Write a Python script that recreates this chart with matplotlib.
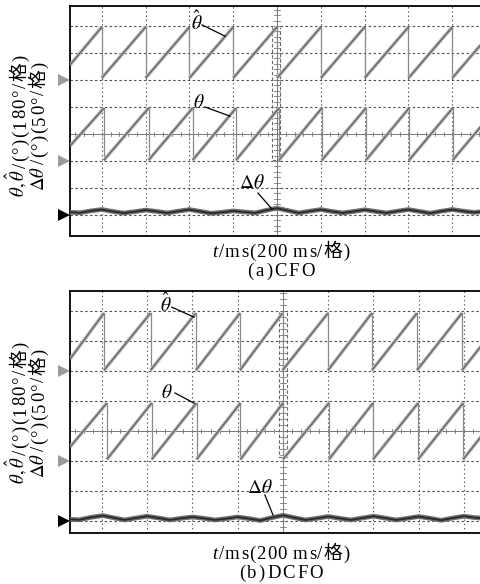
import numpy as np
import matplotlib
matplotlib.use("Agg")
import matplotlib.pyplot as plt
from matplotlib.transforms import IdentityTransform, blended_transform_factory

plt.rcParams['mathtext.fontset'] = 'stix'
SERIF = ['Liberation Serif', 'Noto Sans CJK SC']

# ---------------- data (time in ms, angles in degrees) ----------------
# Panel (a) CFO
a_hat_t = [55, 200, 200, 400, 400, 600, 600, 800, 800, 1000, 1000, 1200, 1200,
           1400, 1400, 1600, 1600, 1800, 1800, 1931]
a_hat_v = [100, 353, 13, 353, 13, 353, 13, 353, 13, 353, 13, 353, 13,
           353, 13, 353, 13, 353, 13, 236]
a_th_t = [55, 210, 210, 414, 414, 615, 615, 813, 813, 1009, 1009, 1205, 1205,
          1406, 1406, 1603, 1603, 1802, 1802, 1931]
a_th_v = [100, 353, 6, 353, 6, 353, 6, 353, 6, 353, 6, 353, 6,
          353, 6, 353, 6, 353, 6, 230]
a_err_t = [55, 100, 150, 200, 250, 300, 350, 400, 450, 500, 550, 600, 650, 700,
           750, 800, 850, 900, 950, 1000, 1050, 1100, 1150, 1200, 1250, 1300,
           1350, 1400, 1450, 1500, 1550, 1600, 1650, 1700, 1750, 1800, 1850,
           1900, 1931]
a_err_v = [5, 4, 7.5, 10, 6.5, 3.5, 6, 9, 6.5, 3.7, 7, 10, 6.5, 3, 5, 7.4, 5.5,
           3.7, 8.5, 12.5, 8, 3.7, 7, 10, 6.5, 3.7, 6.5, 9.5, 6.5, 3.7, 7, 10,
           6.5, 3.2, 7, 10, 7, 4.6, 6]

# Panel (b) DCFO
b_hat_t = [59, 209, 209, 415, 415, 615, 615, 810, 810, 998, 998, 1199, 1199,
           1393, 1393, 1592, 1592, 1791, 1791, 1875]
b_hat_v = [72, 348, 5, 348, 5, 348, 5, 348, 5, 348, 5, 348, 5,
           348, 5, 348, 5, 348, 5, 149]
b_th_t = [59, 222, 222, 420, 420, 618, 618, 812, 812, 1000, 1000, 1203, 1203,
          1398, 1398, 1597, 1597, 1796, 1796, 1875]
b_th_v = [84, 348, 10, 348, 10, 348, 10, 348, 10, 348, 10, 348, 10,
          348, 10, 348, 10, 348, 10, 146]
b_err_t = [59, 100, 150, 204, 250, 300, 350, 400, 450, 500, 550, 600, 650, 700,
           750, 800, 850, 900, 950, 1000, 1050, 1100, 1150, 1200, 1250, 1300,
           1350, 1400, 1450, 1500, 1550, 1600, 1650, 1700, 1750, 1800, 1850, 1875]
b_err_v = [2.8, 2, 6, 9, 5.5, 1.7, 5, 8, 5, 1.7, 4.5, 6.7, 4.5, 1.7, 4, 6.7, 4,
           0.8, 5.5, 9.5, 5.5, 1.7, 4.5, 7.5, 4.5, 1.7, 5, 8, 5, 1.7, 4.5, 7.5,
           4.5, 1.2, 5, 8, 5.5, 5]

# channel settings: scale (deg/div) and ground level (div)
HAT_SCALE, HAT_GND = 180.0, 2.0
TH_SCALE, TH_GND = 180.0, -1.0
ERR_SCALE, ERR_GND = 50.0, -3.0

W, H = 481, 584
fig = plt.figure(figsize=(W / 100, H / 100), dpi=100)


def px_axes(left, top, right, bottom):
    return fig.add_axes([left / W, 1 - bottom / H, (right - left) / W, (bottom - top) / H])


def to_div(vals, scale, gnd):
    return [gnd + v / scale for v in vals]


def draw_saw(ax, tt, vv, scale, gnd):
    y = to_div(vv, scale, gnd)
    for i in range(len(tt) - 1):
        xs, ys = [tt[i], tt[i + 1]], [y[i], y[i + 1]]
        if tt[i] == tt[i + 1]:
            ax.plot(xs, ys, color='#8a8a8a', lw=0.9, zorder=3)
        else:
            ax.plot(xs, ys, color='#bdbdbd', lw=2.6, zorder=3, solid_capstyle='butt')
            ax.plot(xs, ys, color='#6a6a6a', lw=1.1, zorder=4, solid_capstyle='butt')


def draw_panel(ax, xlim, ylim, hat, th, err, box, ann):
    ax.set_xlim(*xlim)
    ax.set_ylim(*ylim)
    ax.set_xticks([])
    ax.set_yticks([])
    for s in ['left', 'top', 'bottom']:
        ax.spines[s].set_linewidth(1.3)
        ax.spines[s].set_color('black')
    ax.spines['right'].set_visible(False)
    # grid
    for t in range(200, 2000, 200):
        if t == 1000:
            continue
        ax.axvline(t, color='#505050', lw=0.8, dashes=(1.2, 2.6), zorder=1)
    for d in range(-4, 6):
        if d == 0:
            continue
        ax.axhline(d, color='#505050', lw=0.8, dashes=(2.2, 2.2), zorder=1)
    ax.axvline(1000, color='#777777', lw=0.7, zorder=1)
    ax.axhline(0, color='#777777', lw=0.7, zorder=1)
    # small ticks along center lines
    for t in np.arange(40, 2000, 40):
        ax.plot([t, t], [-0.06, 0.06], color='#777777', lw=0.6, zorder=1)
    for d in np.arange(-4.8, 5.0, 0.2):
        ax.plot([988, 1012], [d, d], color='#777777', lw=0.6, zorder=1)
    # cursor box
    bx0, bx1, by0, by1 = box
    ax.plot([bx0, bx0, bx1, bx1], [by1, by0, by0, by1], color='#666666', lw=0.8,
            dashes=(3, 2), zorder=2)
    # traces
    draw_saw(ax, hat[0], hat[1], HAT_SCALE, HAT_GND)
    draw_saw(ax, th[0], th[1], TH_SCALE, TH_GND)
    ye = to_div(err[1], ERR_SCALE, ERR_GND)
    ax.plot(err[0], ye, color='#707070', lw=3.4, zorder=3, solid_joinstyle='round')
    ax.plot(err[0], ye, color='#2a2a2a', lw=1.3, zorder=4, solid_joinstyle='round')
    # ground markers
    tr = blended_transform_factory(ax.transAxes, ax.transData)
    for g, c in [(HAT_GND, '#9a9a9a'), (TH_GND, '#9a9a9a'), (ERR_GND, 'black')]:
        ax.plot([-0.015], [g], marker='>', ms=8, color=c, transform=tr, clip_on=False,
                markeredgewidth=0)
    # annotations
    for label, (tx, ty), (x0, y0), (x1, y1) in ann:
        ax.text(tx, ty, label, fontsize=14, ha='center', va='center', zorder=6)
        ax.plot([x0, x1], [y0, y1], color='black', lw=0.9, zorder=6)


ax_a = px_axes(70, 6, 481, 236)
draw_panel(ax_a, (55, 1931), (-3.78, 4.74),
           (a_hat_t, a_hat_v), (a_th_t, a_th_v), (a_err_t, a_err_v),
           (977, 1014, -0.96, 3.96),
           [(r'$\hat{\theta}$', (635, 4.15), (658, 4.04), (763, 3.62)),
            (r'$\theta$', (644, 1.17), (671, 1.0), (785, 0.66)),
            (r'$\Delta\theta$', (885, -1.8), (913, -2.19), (977, -2.78))])

ax_b = px_axes(70, 291, 481, 533)
draw_panel(ax_b, (59, 1875), (-3.4, 4.67),
           (b_hat_t, b_hat_v), (b_th_t, b_th_v), (b_err_t, b_err_v),
           (982, 1018, -0.87, 3.97),
           [(r'$\hat{\theta}$', (483, 4.22), (509, 4.13), (607, 3.8)),
            (r'$\theta$', (487, 1.27), (523, 1.27), (607, 0.93)),
            (r'$\Delta\theta$', (900, -1.87), (920, -2.13), (956, -2.8))])

# ---------------- mixed-font labels (letter-spaced) ----------------
renderer = fig.canvas.get_renderer()


def mixed(pieces, xc, yb, rot=0, fs=13.5, gap=1.5):
    """pieces: list of (text, kwargs, split); xc = center along text direction,
    yb = baseline (pixel, from top)."""
    objs = []
    widths = []
    for s, kw, split in pieces:
        parts = list(s) if split else [s]
        for p in parts:
            t = fig.text(0, 0, p, fontsize=fs, ha='left', va='baseline',
                         rotation_mode='anchor', transform=IdentityTransform(), **kw)
            w = t.get_window_extent(renderer).width if p.strip() else fs * 0.3
            widths.append(w)
            objs.append(t)
    L = sum(widths) + gap * (len(widths) - 1)
    cum = 0
    for t, w in zip(objs, widths):
        if rot == 0:
            t.set_position((xc - L / 2 + cum, H - yb))
        else:
            t.set_rotation(90)
            t.set_position((yb, H - (xc + L / 2) + cum))
        cum += w + gap


serif = dict(family=SERIF)
italic = dict(family=SERIF, style='italic')

for yc in (126, 413):
    mixed([(r'$\theta,\hat{\theta}$', {}, False), ('/(°)(180°/格)', serif, True)],
          yc, 25.5, rot=90)
    mixed([(r'$\Delta\theta$', {}, False), ('/(°)(50°/格)', serif, True)],
          yc, 44.5, rot=90)

mixed([('t', italic, False), ('/ms(200 ms/格)', serif, True)], 281, 257, gap=1.1)
mixed([('(a)CFO', serif, True)], 281, 276, gap=2.0)
mixed([('t', italic, False), ('/ms(200 ms/格)', serif, True)], 281, 559, gap=1.1)
mixed([('(b)DCFO', serif, True)], 281, 578, gap=2.0)

fig.savefig('out.png', dpi=100)
